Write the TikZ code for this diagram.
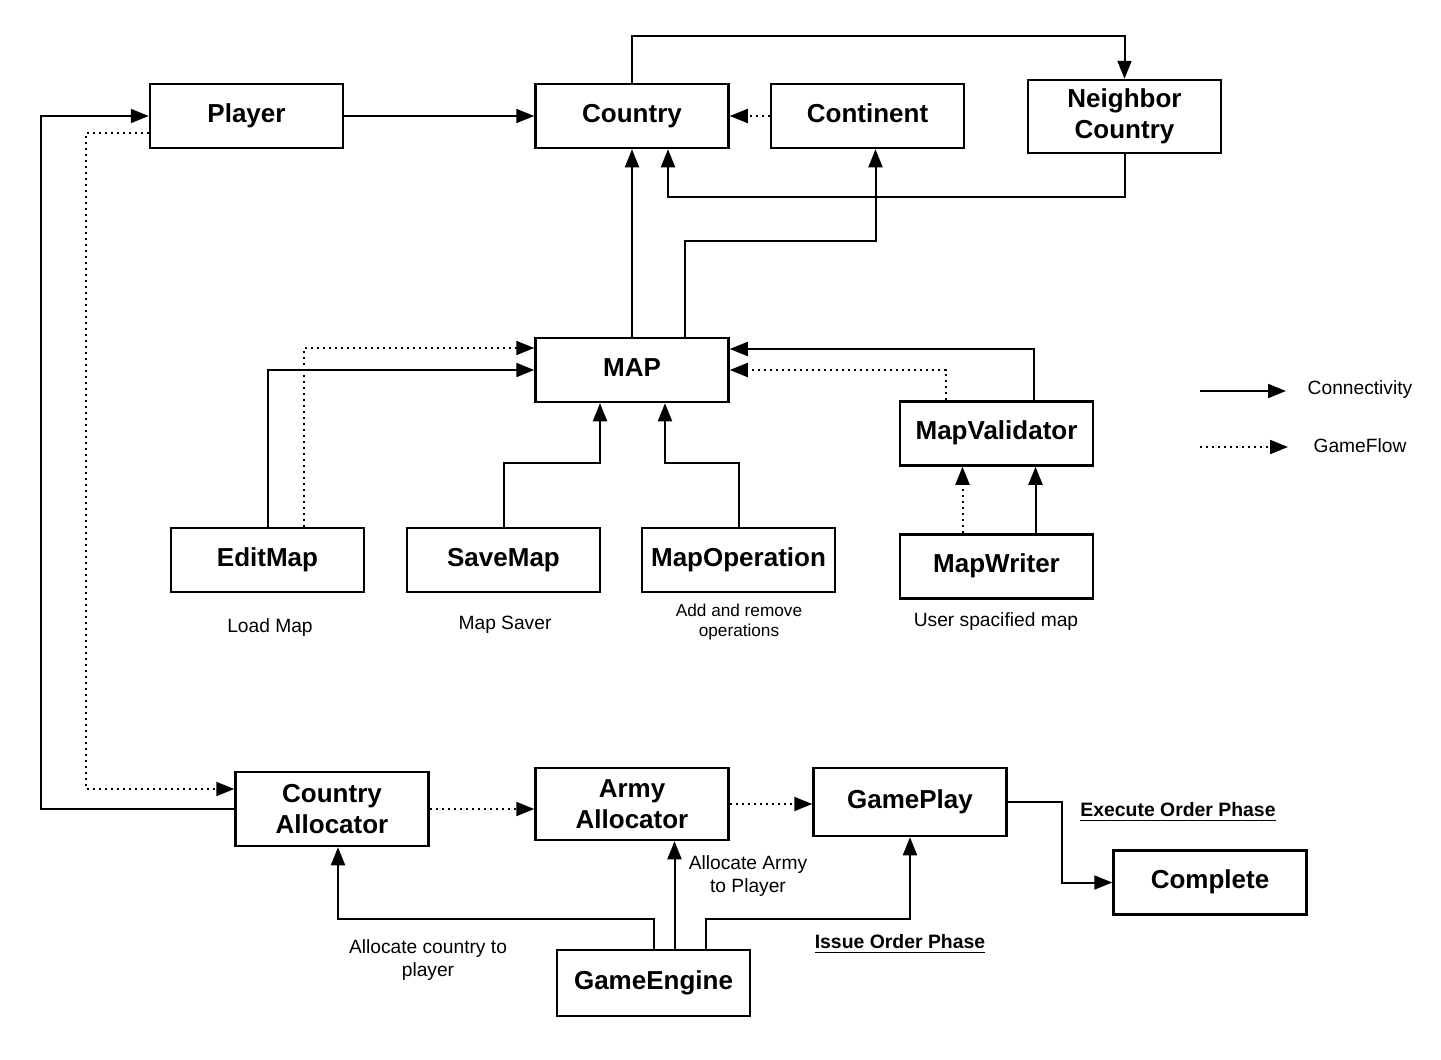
\documentclass[tikz,border=0pt]{standalone}
\usepackage{fontspec}
\setmainfont{Liberation Sans}
\usetikzlibrary{calc,arrows.meta}

\begin{document}
\begin{tikzpicture}[x=0.5pt,y=-0.5pt,
  boite/.style={draw,line width=1.25pt,minimum width=96.5pt,minimum height=32pt,
    inner sep=1pt,align=center,font=\fontsize{13}{15.5}\selectfont\bfseries},
  ligne/.style={boite,text height=9.6pt,text depth=3.2pt},
  conn/.style={line width=1pt,-{Triangle[length=9pt,width=7pt]}},
  flot/.style={conn,dotted},
  note/.style={align=center,font=\fontsize{9.6}{11.5}\selectfont}]

\useasboundingbox (0,0) rectangle (1441,1060);

% Boites du haut
\node[ligne] (player) at (246.5,116) {Player};
\node[ligne] (country) at (632,116) {Country};
\node[ligne] (continent) at (867.5,116) {Continent};
\node[boite,minimum height=36.5pt] (neighbor) at (1124.5,116.5) {Neighbor\\Country};

% Carte
\node[ligne] (map) at (632,370) {MAP};
\node[ligne] (validator) at (996.5,433.5) {MapValidator};
\node[ligne] (editmap) at (267.5,560) {EditMap};
\node[ligne] (savemap) at (503.5,560) {SaveMap};
\node[ligne] (mapop) at (738.5,560) {MapOperation};
\node[ligne] (writer) at (996.5,566.5) {MapWriter};

% Jeu
\node[boite,minimum height=37pt] (countryalloc) at (332,809) {Country\\Allocator};
\node[boite,minimum height=36pt] (armyalloc) at (632,804) {Army\\Allocator};
\node[ligne,minimum height=34pt] (gameplay) at (910,802) {GamePlay};
\node[ligne] (complete) at (1210,882.5) {Complete};
\node[ligne,minimum height=33pt] (engine) at (653.5,983) {GameEngine};

% Liaisons du haut
\draw[conn] (player) -- (country);
\draw[flot] (continent) -- (country);
\draw[conn] (country.north) -- ++(0,-47) -| (neighbor.north);
\draw[conn] (neighbor.south) -- ++(0,43) -| ($(country.south)+(36,0)$);
\draw[conn] (map.north) -- (country.south);
\draw[conn] ($(map.north)+(53,0)$) -- ++(0,-96) -| ($(continent.south)+(8,0)$);

% Liaisons vers MAP
\draw[conn] (editmap.north) |- (map.west);
\draw[flot] ($(editmap.north)+(36,0)$) |- ($(map.west)+(0,-22)$);
\draw[conn] (savemap.north) -- ++(0,-64) -| ($(map.south)+(-32,0)$);
\draw[conn] (mapop.north) -- ++(0,-64) -| ($(map.south)+(33,0)$);
\draw[conn] ($(validator.north)+(37,0)$) |- ($(map.east)+(0,-21)$);
\draw[flot] ($(validator.north)+(-51,0)$) |- (map.east);
\draw[flot] ($(writer.north)+(-34,0)$) -- ($(validator.south)+(-34,0)$);
\draw[conn] ($(writer.north)+(39,0)$) -- ($(validator.south)+(39,0)$);

% Liaisons du jeu
\draw[conn] (countryalloc.west) -- ++(-193,0) |- (player.west);
\draw[flot] ($(player.west)+(0,17)$) -- ++(-63,0) |- ($(countryalloc.west)+(0,-20)$);
\draw[flot] (countryalloc.east) -- (countryalloc.east -| armyalloc.west);
\draw[flot] (armyalloc.east) -- (armyalloc.east -| gameplay.west);
\draw[conn] (gameplay.east) -- ++(54,0) |- (complete.west);
\draw[conn] (engine.north) -- ++(0,-30) -| ($(countryalloc.south)+(6,0)$);
\draw[conn] ($(engine.north)+(21,0)$) -- ($(armyalloc.south)+(42.5,0)$);
\draw[conn] ($(engine.north)+(52,0)$) -- ++(0,-30) -| (gameplay.south);

% Etiquettes
\node[note] (lload) at (270,628) {Load Map};
\node[note] (lsaver) at (505,625) {Map Saver};
\node[note,font=\fontsize{8.6}{10}\selectfont] (lop) at (739,622) {Add and remove\\operations};
\node[note] (luser) at (996,622) {User spacified map};
\node[note] (lcountry) at (428,960) {Allocate country to\\player};
\node[note] (larmy) at (748,876) {Allocate Army\\to Player};
\node[note,font=\fontsize{9.7}{11}\selectfont\bfseries] (lissue) at (900,944) {\underline{Issue Order Phase}};
\node[note,font=\fontsize{9.7}{11}\selectfont\bfseries] (lexec) at (1178,812) {\underline{Execute Order Phase}};

% Legende
\coordinate (la) at (1200,391);
\coordinate (lb) at (1286,391);
\coordinate (lc) at (1200,447);
\coordinate (ld) at (1288,447);
\draw[conn] (la) -- (lb);
\draw[flot] (lc) -- (ld);
\node[note] (lconn) at (1360,390) {Connectivity};
\node[note] (lflow) at (1360,446) {GameFlow};

\end{tikzpicture}
\end{document}
